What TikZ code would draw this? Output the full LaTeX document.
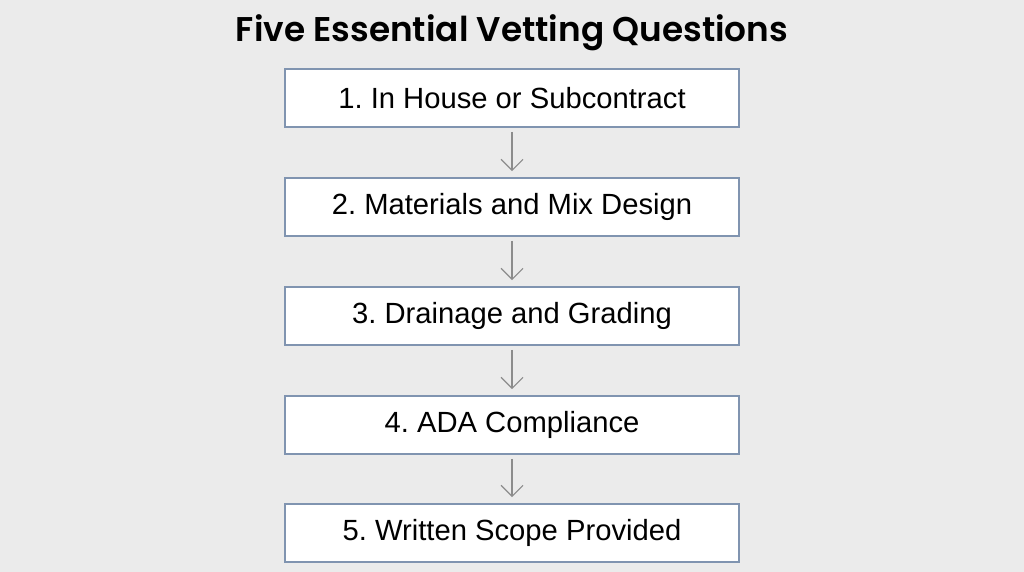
\documentclass[tikz,border=0pt]{standalone}
\usepackage{fontspec}
\setmainfont{Liberation Sans}
\newfontfamily\titlefont{Poppins}[BoldFont={Poppins SemiBold}]
\usepackage{tikz}
\usetikzlibrary{arrows.meta, positioning}
\definecolor{bggray}{HTML}{EBEBEB}
\definecolor{boxedge}{HTML}{8094B0}
\definecolor{arrowgray}{HTML}{8C8C8C}
\frenchspacing

\begin{document}
\begin{tikzpicture}
  [
    x=0.5pt, y=-0.5pt,
    Box/.style={rectangle, draw=boxedge, fill=white, line width=0.8pt,
      minimum width=227pt, minimum height=29pt, inner sep=0pt,
      font=\fontsize{14.6}{17}\selectfont},
    Title/.style={font=\titlefont\bfseries\fontsize{17.15}{20}\selectfont},
    Arrow/.style={-{Straight Barb[length=5.5pt, width=11pt]}, draw=arrowgray, line width=0.6pt,
      shorten >=3pt, shorten <=2pt}
  ]
  % Background
  \fill[bggray] (0, 0) rectangle (1024, 572);
  \useasboundingbox (0, 0) rectangle (1024, 572);
  % Nodes
  \node[Title] (title) at(512, 33) {Five Essential Vetting Questions};
  \node[Box] (q1) at(512, 98) {1. In House or Subcontract};
  \node[Box] (q2) at(512, 207) {2. Materials and Mix Design};
  \node[Box] (q3) at(512, 316) {3. Drainage and Grading};
  \node[Box] (q4) at(512, 425) {4. ADA Compliance};
  \node[Box] (q5) at(512, 533) {5. Written Scope Provided};
  % Lines
  \path [Arrow] (q1) -- (q2);
  \path [Arrow] (q2) -- (q3);
  \path [Arrow] (q3) -- (q4);
  \path [Arrow] (q4) -- (q5);
\end{tikzpicture}
\end{document}
